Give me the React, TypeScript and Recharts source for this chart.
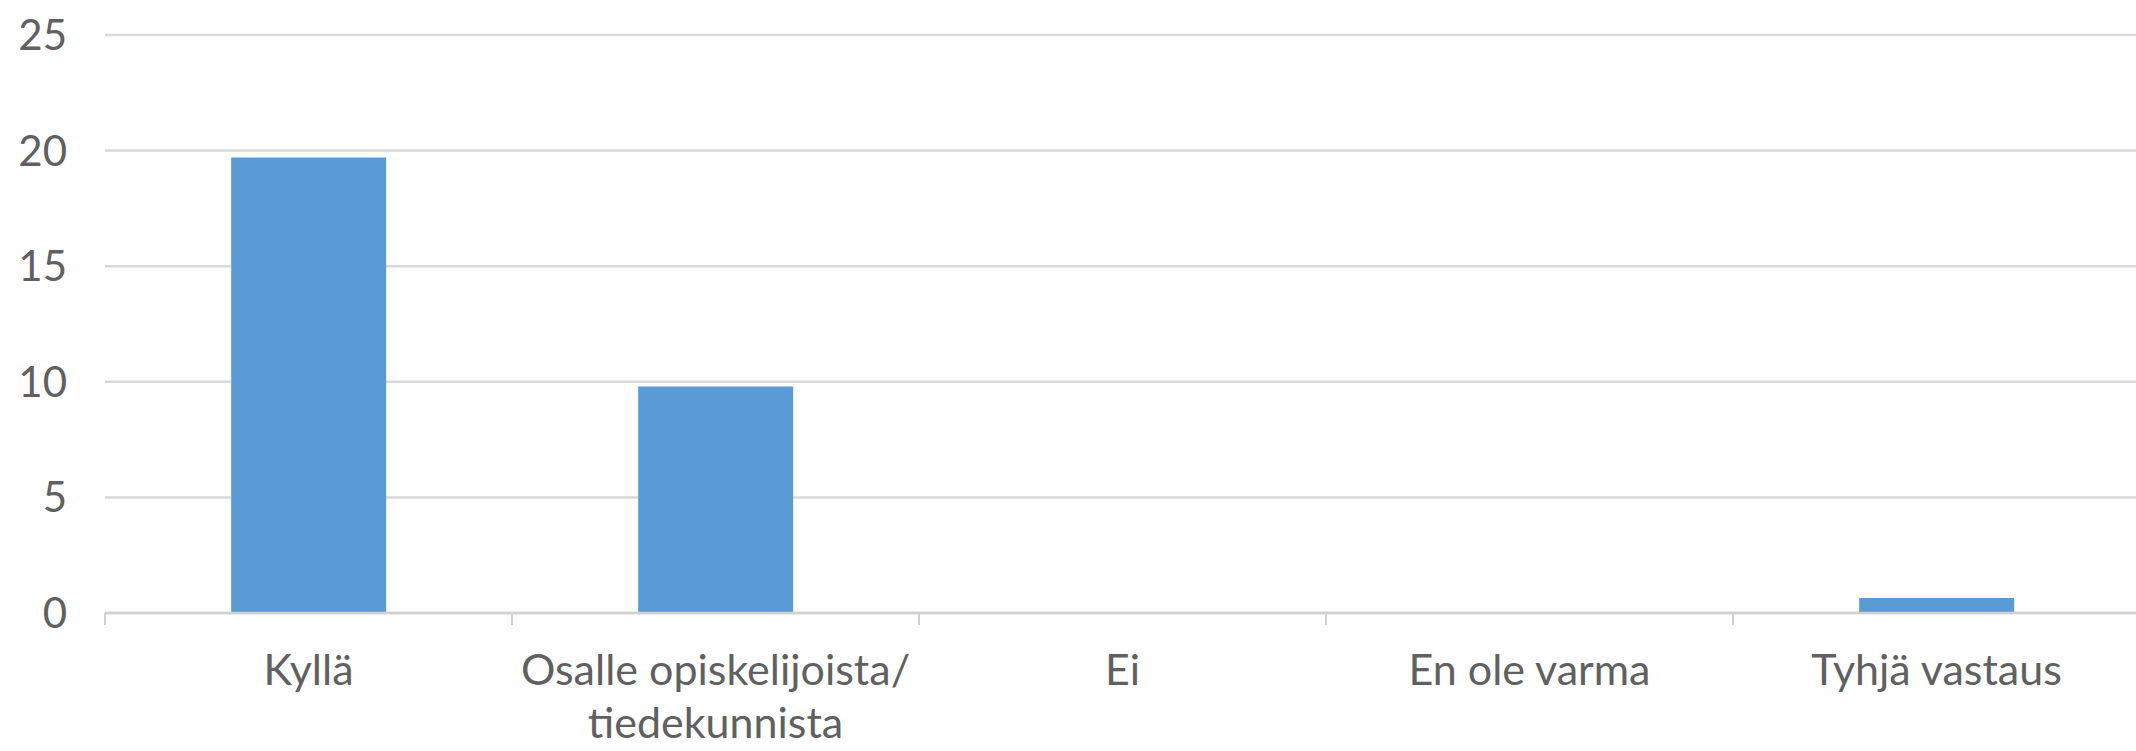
import React from "react";
import { BarChart, Bar, XAxis, YAxis, CartesianGrid } from "recharts";

const categories = [
  "Kyllä",
  "Osalle opiskelijoista/\ntiedekunnista",
  "Ei",
  "En ole varma",
  "Tyhjä vastaus",
];
const values = [19.7, 9.8, 0, 0, 0.65];
const yTicks = [0, 5, 10, 15, 20, 25];

const data = categories.map((name, i) => ({ name, value: values[i] }));

const TEXT = "#606060";
const FONT = "Lato, 'Open Sans', sans-serif";

const XTick = (props: any) => {
  const { x, y, payload, width, visibleTicksCount } = props;
  const lines = String(payload.value).split("\n");
  let half = payload && typeof payload.offset === "number" ? payload.offset : 0;
  if (!half && width && visibleTicksCount) half = width / visibleTicksCount / 2;
  const bx = x - half;
  return (
    <g>
      <line x1={bx} x2={bx} y1={y} y2={y + 12} stroke="#d0d0d0" strokeWidth={2} />
      <text x={x} y={y} textAnchor="middle" fill={TEXT} fontSize={43} fontFamily={FONT}>
        {lines.map((l, i) => (
          <tspan key={i} x={x} dy={i === 0 ? 72 : 53}>
            {l}
          </tspan>
        ))}
      </text>
    </g>
  );
};

export default function App() {
  return (
    <div
      style={{
        position: "absolute",
        top: 0,
        left: 0,
        width: 2136,
        height: 751,
        overflow: "hidden",
        background: "#ffffff",
      }}
    >
      <BarChart
        width={2140}
        height={751}
        data={data}
        margin={{ top: 35, right: 0, left: 0, bottom: 0 }}
        barCategoryGap="31%"
      >
        <CartesianGrid vertical={false} stroke="#d9d9d9" strokeWidth={2.5} />
        <XAxis
          dataKey="name"
          height={138}
          interval={0}
          tickSize={0}
          tickMargin={0}
          tickLine={false}
          axisLine={{ stroke: "#d0d0d0", strokeWidth: 2.5 }}
          tick={XTick}
        />
        <YAxis
          domain={[0, 25]}
          ticks={yTicks}
          width={105}
          axisLine={false}
          tickLine={false}
          tickMargin={32}
          tick={{ fill: TEXT, fontSize: 42, fontFamily: FONT }}
        />
        <Bar dataKey="value" fill="#5B9BD5" isAnimationActive={false} />
      </BarChart>
    </div>
  );
}
